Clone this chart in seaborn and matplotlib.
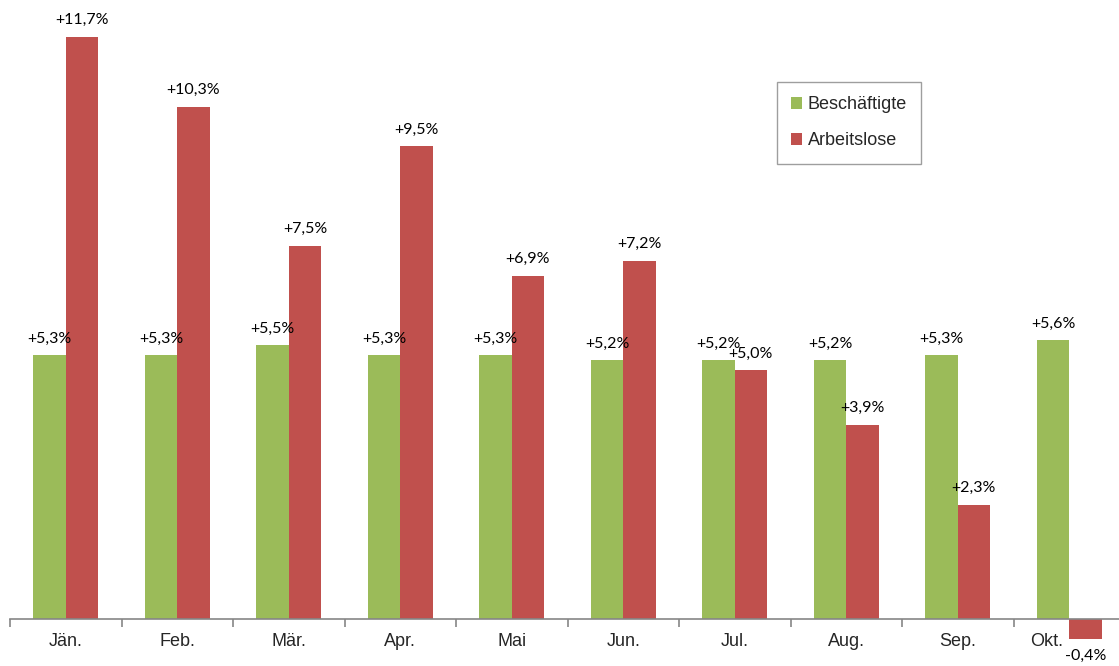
import pandas as pd
import matplotlib.pyplot as plt
import matplotlib.transforms as mtransforms
import seaborn as sns
from matplotlib.patches import Patch

months = ["Jän.", "Feb.", "Mär.", "Apr.", "Mai", "Jun.", "Jul.", "Aug.", "Sep.", "Okt."]
beschaeftigte = [5.3, 5.3, 5.5, 5.3, 5.3, 5.2, 5.2, 5.2, 5.3, 5.6]
arbeitslose = [11.7, 10.3, 7.5, 9.5, 6.9, 7.2, 5.0, 3.9, 2.3, -0.4]
series = ["Beschäftigte", "Arbeitslose"]
colors = ["#9BBB59", "#C0504D"]

df = pd.DataFrame({
    "Monat": months * 2,
    "Wert": beschaeftigte + arbeitslose,
    "Reihe": [series[0]] * len(months) + [series[1]] * len(months),
})

sns.set_theme(style="white")
plt.rcParams["font.family"] = ["Liberation Sans", "DejaVu Sans"]

fig = plt.figure(figsize=(11.19, 6.66), dpi=100)
ax = fig.add_axes([10 / 1119, 0, 1115 / 1119, 1])

sns.barplot(data=df, x="Monat", y="Wert", hue="Reihe", palette=colors,
            width=0.58, errorbar=None, ax=ax, legend=False, saturation=1,
            linewidth=0)

# Datenbeschriftungen
for container, vals in zip(ax.containers, [beschaeftigte, arbeitslose]):
    labels = [f"{v:+.1f}%".replace(".", ",") for v in vals]
    ax.bar_label(container, labels=labels, padding=7, fontsize=11.5,
                 family=["Lato", "DejaVu Sans"], color="black")

ax.set_xlim(-0.5, 9.5)
ax.set_ylim(-0.945, 12.445)
ax.set_xlabel("")
ax.set_ylabel("")
ax.set_yticks([])

for s in ["top", "right", "left"]:
    ax.spines[s].set_visible(False)
ax.spines["bottom"].set_position(("data", 0))
ax.spines["bottom"].set_color("#868686")
ax.spines["bottom"].set_linewidth(1.2)

ax.set_xticks(range(len(months)))
ax.set_xticklabels(months, fontsize=13)
ax.tick_params(axis="x", which="major", length=0, pad=10)
ax.set_xticks([i - 0.5 for i in range(len(months) + 1)], minor=True)
ax.tick_params(axis="x", which="minor", length=6, width=1.2, color="#868686",
               direction="out", bottom=True)

# "Okt." nach links, damit der negative Balken frei bleibt
okt = ax.get_xticklabels()[-1]
okt.set_transform(okt.get_transform() + mtransforms.ScaledTranslation(-0.23, 0, fig.dpi_scale_trans))

handles = [Patch(facecolor=c, edgecolor="none") for c in colors]
leg = ax.legend(handles, series, loc="upper left", bbox_to_anchor=(767 / 1115, 1 - 82 / 666),
                fontsize=13, frameon=True, fancybox=False, handlelength=0.6,
                handleheight=0.6, handletextpad=0.3, labelspacing=1.05,
                borderpad=0.8, borderaxespad=0)
leg.get_frame().set_edgecolor("#868686")
leg.get_frame().set_linewidth(1.0)

plt.savefig("out.png", dpi=100)
